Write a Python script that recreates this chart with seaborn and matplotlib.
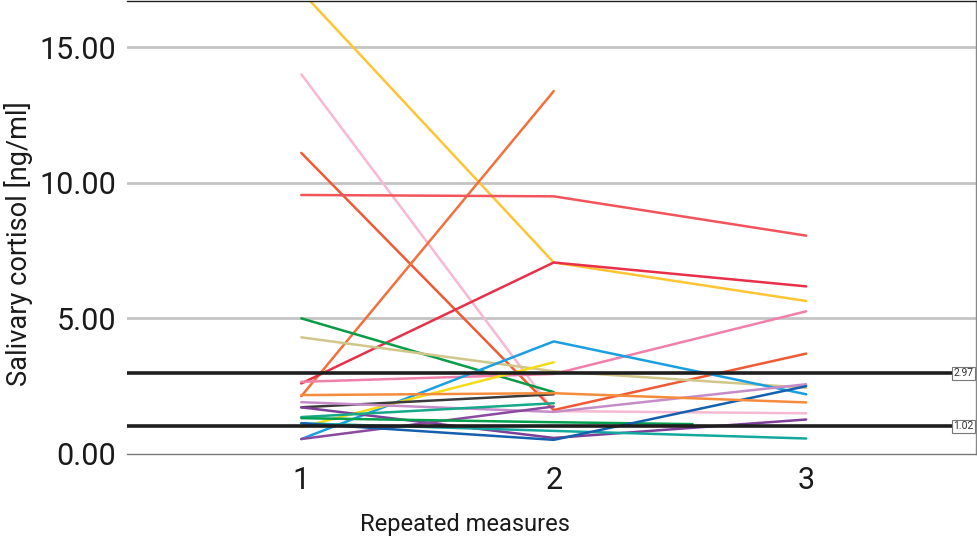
import numpy as np
import pandas as pd
import seaborn as sns
from matplotlib import pyplot as plt
from matplotlib import transforms

# one list per subject: cortisol at each repeated measure (nan = missing)
s01 = [17.05, 7.06, 5.64]
s02 = [14.0, 1.58, 1.50]
s03 = [11.1, 1.62, 3.70]
s04 = [2.13, 13.38, np.nan]
s05 = [9.55, 9.50, 8.05]
s06 = [2.60, 7.06, 6.18]
s07 = [5.00, 2.28, np.nan]
s08 = [4.30, 3.05, 2.44]
s09 = [2.66, 2.95, 5.26]
s10 = [0.55, 4.15, 2.20]
s11 = [0.99, 3.38, np.nan]
s12 = [1.72, 2.20, np.nan]
s13 = [1.91, 1.55, 2.57]
s14 = [1.72, 0.59, 1.27]
s15 = [0.55, 1.75, np.nan]
s16 = [1.36, 1.87, np.nan]
s17 = [1.13, 0.85, 0.57]
s18 = [1.32, 1.17, 1.10]
s19 = [1.13, 0.52, 2.50]
s20 = [2.17, 2.24, 1.90]

measures = [1, 2, 3]
measures_s18 = [1, 2, 2.55]

cutoffs = [2.97, 1.02]

subjects = {"S01": s01, "S02": s02, "S03": s03, "S04": s04, "S05": s05,
            "S06": s06, "S07": s07, "S08": s08, "S09": s09, "S10": s10,
            "S11": s11, "S12": s12, "S13": s13, "S14": s14, "S15": s15,
            "S16": s16, "S17": s17, "S18": s18, "S19": s19, "S20": s20}

colors = {"S01": "#FDC533", "S02": "#F6B8D3", "S03": "#EE5A36", "S04": "#F2703C",
          "S05": "#F1545A", "S06": "#E8304A", "S07": "#0A9B48", "S08": "#D1C68A",
          "S09": "#F080AA", "S10": "#1B9FE0", "S11": "#F3DC16", "S12": "#3A3A3A",
          "S13": "#C58CC8", "S14": "#7D3F98", "S15": "#8A4A9E", "S16": "#17A88A",
          "S17": "#13A89E", "S18": "#00A04E", "S19": "#1560AE", "S20": "#F68B3C"}

rows = []
for name, vals in subjects.items():
    xs = measures_s18 if name == "S18" else measures
    for x, v in zip(xs, vals):
        rows.append({"subject": name, "measure": x, "cortisol": v})
df = pd.DataFrame(rows).dropna()

sns.set_style("white")
plt.rcParams['font.family'] = ['Roboto', 'DejaVu Sans']

fig = plt.figure(figsize=(9.78, 5.43), dpi=100)
ax = fig.add_axes([0.130, 0.164, 0.868, 0.834])

for y in [5, 10, 15]:
    ax.axhline(y, color="#C4C4C4", lw=2, zorder=0)

sns.lineplot(data=df, x="measure", y="cortisol", hue="subject", palette=colors,
             units="subject", estimator=None, legend=False, lw=1.8, ax=ax, zorder=2)

trans = transforms.blended_transform_factory(ax.transAxes, ax.transData)
for c in cutoffs:
    ax.axhline(c, color="#1E1E1E", lw=2.6, zorder=3)
    ax.text(0.985, c, f"{c:.2f}", transform=trans, ha="center", va="center",
            fontsize=7.5, color="#333333", zorder=4,
            bbox=dict(boxstyle="square,pad=0.15", fc="white", ec="#777777", lw=0.8))

ax.set_xlim(0.31, 3.673)
ax.set_ylim(0, 16.7)
ax.set_xticks(measures)
ax.set_yticks([0, 5, 10, 15])
ax.set_yticklabels(["0.00", "5.00", "10.00", "15.00"])
ax.tick_params(axis="both", length=4, width=0.8, color="#777777", labelcolor="#1A1A1A")
ax.tick_params(axis="y", labelsize=22, pad=4)
ax.tick_params(axis="x", labelsize=22, pad=5)
ax.set_xlabel("Repeated measures", fontsize=17, color="#1A1A1A")
ax.set_ylabel("Salivary cortisol [ng/ml]", fontsize=19.5, color="#1A1A1A")
ax.xaxis.set_label_coords(0.398, -0.13)
ax.yaxis.set_label_coords(-0.111, 0.464)

ax.spines["left"].set_visible(False)
ax.spines["top"].set_color("#222222")
ax.spines["right"].set_color("#888888")
ax.spines["bottom"].set_color("#777777")
for s in ax.spines.values():
    s.set_linewidth(1)

fig.savefig("out.png", dpi=100)
